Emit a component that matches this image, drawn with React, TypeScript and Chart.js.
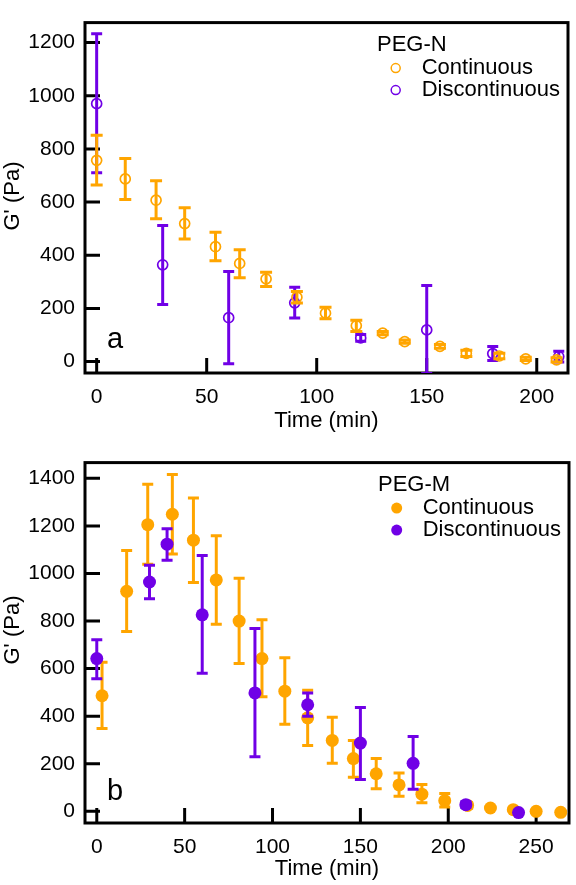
import React, { useEffect, useRef } from "react";
import { Chart, registerables } from "chart.js";
Chart.register(...registerables);

const ORANGE = "rgb(255,165,0)";
const PURPLE = "rgb(112,0,230)";
const FONT = "'Liberation Sans', Arial, Helvetica, sans-serif";

// ---------- Panel a: PEG-N ----------
const contNTime = [0, 13, 27, 40, 54, 65, 77, 91, 104, 118, 130, 140, 156, 168, 183, 195, 209];
const contNVal = [757, 687, 607, 519, 432, 369, 311, 242, 182, 135, 107, 75, 57, 31, 21, 10, 6];
const contNHi = [851, 764, 680, 579, 486, 421, 336, 264, 204, 155, 113, 81, 64, 43, 31, 16, 14];
const contNLo = [664, 610, 537, 461, 379, 315, 282, 220, 161, 113, 101, 69, 50, 19, 11, 4, -2];

const discNTime = [0, 30, 60, 90, 120, 150, 180, 210];
const discNVal = [970, 364, 165, 221, 89, 119, 30, 19];
const discNHi = [1233, 512, 339, 280, 102, 286, 57, 39];
const discNLo = [710, 215, -8, 164, 76, -45, 4, -2];

const xTicksN = [0, 50, 100, 150, 200];
const yTicksN = [0, 200, 400, 600, 800, 1000, 1200];

// ---------- Panel b: PEG-M ----------
const contMTime = [3, 17, 29, 43, 55, 68, 81, 94, 107, 120, 134, 146, 159, 172, 185, 198, 211, 224, 237, 250, 264];
const contMVal = [486, 925, 1205, 1249, 1140, 973, 800, 642, 505, 393, 298, 222, 158, 111, 72, 45, 25, 14, 7, 0, -4];
const contMHi = [627, 1097, 1375, 1416, 1317, 1158, 980, 805, 646, 509, 396, 298, 222, 161, 113, 75, 37, 20, 10, 3, -1];
const contMLo = [348, 756, 1039, 1082, 962, 786, 622, 482, 366, 277, 202, 143, 95, 63, 36, 18, 13, 8, 4, -3, -7];

const discMTime = [0, 30, 40, 60, 90, 120, 150, 180, 210, 240];
const discMVal = [642, 964, 1123, 826, 498, 448, 287, 202, 28, -5];
const discMHi = [721, 1035, 1188, 1076, 769, 498, 437, 315, 40, 0];
const discMLo = [557, 894, 1055, 580, 229, 400, 134, 93, 16, -10];

const xTicksM = [0, 50, 100, 150, 200, 250];
const yTicksM = [0, 200, 400, 600, 800, 1000, 1200, 1400];

const errorBarPlugin = {
  id: "errorBars",
  beforeDatasetDraw(chart: any, args: any) {
    const ds = chart.data.datasets[args.index];
    if (!ds.errLo) return;
    const { ctx, chartArea } = chart;
    const xs = chart.scales.x;
    const ys = chart.scales.y;
    const cap = ds.capHalf || 6;
    ctx.save();
    ctx.beginPath();
    ctx.rect(chartArea.left, chartArea.top, chartArea.right - chartArea.left, chartArea.bottom - chartArea.top);
    ctx.clip();
    ctx.strokeStyle = ds.borderColor;
    ctx.lineWidth = 3;
    ctx.lineCap = "butt";
    ds.data.forEach((p: any, i: number) => {
      const x = xs.getPixelForValue(p.x);
      const y1 = ys.getPixelForValue(ds.errLo[i]);
      const y2 = ys.getPixelForValue(ds.errHi[i]);
      ctx.beginPath();
      ctx.moveTo(x, y1);
      ctx.lineTo(x, y2);
      ctx.moveTo(x - cap, y1);
      ctx.lineTo(x + cap, y1);
      ctx.moveTo(x - cap, y2);
      ctx.lineTo(x + cap, y2);
      ctx.stroke();
    });
    ctx.restore();
  },
};

const framePlugin = {
  id: "frameTicks",
  beforeDatasetsDraw(chart: any) {
    const { ctx, chartArea } = chart;
    const xs = chart.scales.x;
    const ys = chart.scales.y;
    ctx.save();
    ctx.strokeStyle = "#000";
    ctx.lineWidth = 3;
    ctx.beginPath();
    xs.ticks.forEach((t: any) => {
      const x = xs.getPixelForValue(t.value);
      ctx.moveTo(x, chartArea.bottom);
      ctx.lineTo(x, chartArea.bottom - 15);
    });
    ys.ticks.forEach((t: any) => {
      const y = ys.getPixelForValue(t.value);
      ctx.moveTo(chartArea.left, y);
      ctx.lineTo(chartArea.left + 15, y);
    });
    ctx.stroke();
    ctx.strokeRect(chartArea.left, chartArea.top, chartArea.right - chartArea.left, chartArea.bottom - chartArea.top);
    ctx.restore();
  },
};

const legendPlugin = {
  id: "pegLegend",
  afterDraw(chart: any, _args: any, opts: any) {
    const { ctx, chartArea } = chart;
    ctx.save();
    ctx.fillStyle = "#000";
    ctx.font = `22px ${FONT}`;
    ctx.textBaseline = "middle";
    ctx.textAlign = "left";
    ctx.fillText(opts.title, chartArea.right - 191, chartArea.top + 22.5);
    const order = opts.order as number[];
    order.forEach((di: number, row: number) => {
      const ds = chart.data.datasets[di];
      const y = chartArea.top + 45.5 + row * 22;
      const mx = chartArea.right - 172.3;
      ctx.beginPath();
      ctx.arc(mx, y, opts.filled ? 5.5 : 4.5, 0, Math.PI * 2);
      if (opts.filled) {
        ctx.fillStyle = ds.borderColor;
        ctx.fill();
      } else {
        ctx.strokeStyle = ds.borderColor;
        ctx.lineWidth = 1.5;
        ctx.stroke();
      }
      ctx.fillStyle = "#000";
      ctx.fillText(ds.label, chartArea.right - 146.3, y);
    });
    // panel letter
    ctx.font = `29px ${FONT}`;
    ctx.textBaseline = "alphabetic";
    ctx.fillText(opts.panel, chartArea.left + 22, chartArea.bottom - opts.panelOffset);
    // y-axis title
    ctx.save();
    ctx.translate(12.5, opts.yTitleY);
    ctx.rotate(-Math.PI / 2);
    ctx.font = `22px ${FONT}`;
    ctx.textAlign = "center";
    ctx.textBaseline = "middle";
    ctx.fillText("G' (Pa)", 0, 0);
    ctx.restore();
    ctx.restore();
  },
};

function pts(t: number[], v: number[]) {
  return t.map((x, i) => ({ x, y: v[i] }));
}

function buildConfig(p: any) {
  return {
    type: "scatter",
    data: { datasets: p.datasets },
    options: {
      animation: false,
      responsive: false,
      events: [],
      layout: { padding: { top: p.padTop, right: p.padRight, left: 0, bottom: 0 } },
      plugins: {
        legend: { display: false },
        tooltip: { enabled: false },
        pegLegend: p.legend,
      },
      scales: {
        x: {
          type: "linear",
          min: p.xMin,
          max: p.xMax,
          grid: { display: false, drawTicks: false },
          border: { display: false },
          afterBuildTicks: (s: any) => {
            s.ticks = p.xTicks.map((value: number) => ({ value }));
          },
          afterFit: (s: any) => {
            s.height = p.xAxisH;
          },
          ticks: {
            color: "#000",
            font: { family: FONT, size: 21 },
            padding: p.xTickPad,
            maxRotation: 0,
            callback: (v: any) => String(v),
          },
          title: {
            display: true,
            text: "Time (min)",
            color: "#000",
            font: { family: FONT, size: 22 },
            padding: { top: 0, bottom: p.xTitlePad },
          },
        },
        y: {
          type: "linear",
          min: p.yMin,
          max: p.yMax,
          grid: { display: false, drawTicks: false },
          border: { display: false },
          afterBuildTicks: (s: any) => {
            s.ticks = p.yTicks.map((value: number) => ({ value }));
          },
          afterFit: (s: any) => {
            s.width = 85;
          },
          ticks: { color: "#000", font: { family: FONT, size: 21 }, padding: 10, callback: (v: any) => String(v) },
          title: { display: false },
        },
      },
    },
    plugins: [framePlugin, errorBarPlugin, legendPlugin],
  };
}

function PanelChart({ params, width, height }: any) {
  const ref = useRef<HTMLCanvasElement>(null);
  useEffect(() => {
    if (!ref.current) return;
    const chart = new Chart(ref.current, buildConfig(params) as any);
    return () => chart.destroy();
  }, []);
  return <canvas ref={ref} width={width} height={height} style={{ display: "block", width, height }} />;
}

const panelA = {
  padTop: 4,
  padRight: 8,
  xAxisH: 67,
  xTickPad: 12,
  xTitlePad: 6,
  xMin: -5.3,
  xMax: 214.2,
  yMin: -43,
  yMax: 1275,
  xTicks: xTicksN,
  yTicks: yTicksN,
  legend: { title: "PEG-N", order: [0, 1], filled: false, panel: "a", panelOffset: 25, yTitleY: 196 },
  datasets: [
    {
      label: "Continuous",
      data: pts(contNTime, contNVal),
      errLo: contNLo,
      errHi: contNHi,
      capHalf: 6,
      borderColor: ORANGE,
      backgroundColor: "rgba(0,0,0,0)",
      pointRadius: 5,
      borderWidth: 1.7,
      showLine: false,
    },
    {
      label: "Discontinuous",
      data: pts(discNTime, discNVal),
      errLo: discNLo,
      errHi: discNHi,
      capHalf: 5.5,
      borderColor: PURPLE,
      backgroundColor: "rgba(0,0,0,0)",
      pointRadius: 5,
      borderWidth: 1.7,
      showLine: false,
    },
  ],
};

const panelB = {
  padTop: 13,
  padRight: 7,
  xAxisH: 62,
  xTickPad: 12,
  xTitlePad: 3,
  xMin: -6.7,
  xMax: 268.7,
  yMin: -49,
  yMax: 1466,
  xTicks: xTicksM,
  yTicks: yTicksM,
  legend: { title: "PEG-M", order: [1, 0], filled: true, panel: "b", panelOffset: 23, yTitleY: 190 },
  datasets: [
    {
      label: "Discontinuous",
      data: pts(discMTime, discMVal),
      errLo: discMLo,
      errHi: discMHi,
      capHalf: 5.5,
      borderColor: PURPLE,
      backgroundColor: PURPLE,
      pointRadius: 6.5,
      borderWidth: 0,
      showLine: false,
    },
    {
      label: "Continuous",
      data: pts(contMTime, contMVal),
      errLo: contMLo,
      errHi: contMHi,
      capHalf: 5.5,
      borderColor: ORANGE,
      backgroundColor: ORANGE,
      pointRadius: 6.5,
      borderWidth: 0,
      showLine: false,
    },
  ],
};

export default function App() {
  return (
    <div style={{ position: "absolute", left: 0, top: 0, width: 576, height: 885, background: "#fff" }}>
      <PanelChart params={panelA} width={576} height={440} />
      <PanelChart params={panelB} width={576} height={445} />
    </div>
  );
}
